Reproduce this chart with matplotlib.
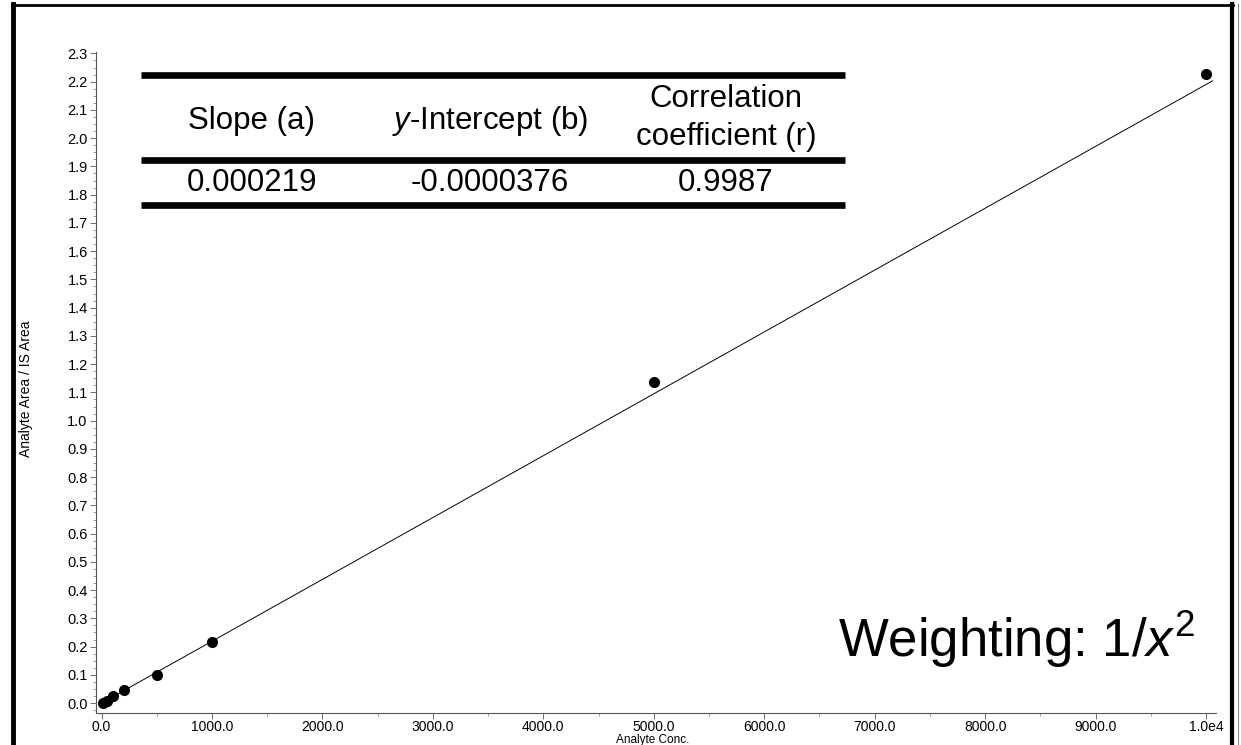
import numpy as np
import matplotlib
matplotlib.use("Agg")
import matplotlib.pyplot as plt
from matplotlib.lines import Line2D
from matplotlib.ticker import MultipleLocator, FormatStrFormatter, FixedLocator

plt.rcParams['font.family'] = ['Liberation Sans', 'DejaVu Sans']
plt.rcParams['mathtext.fontset'] = 'custom'
plt.rcParams['mathtext.rm'] = 'Liberation Sans'
plt.rcParams['mathtext.it'] = 'Liberation Sans:italic'

# calibration points
conc = [10, 50, 100, 200, 500, 1000, 5000, 10000]
ratio = [0.002, 0.008, 0.026, 0.045, 0.101, 0.216, 1.136, 2.227]

# fit results (table)
slope = 0.000219
intercept = -0.0000376
headers = ["Slope (a)", "$y$-Intercept (b)", "Correlation\ncoefficient (r)"]
values = ["0.000219", "-0.0000376", "0.9987"]

x_ticks = [0, 1000, 2000, 3000, 4000, 5000, 6000, 7000, 8000, 9000, 10000]
x_labels = ["0.0", "1000.0", "2000.0", "3000.0", "4000.0", "5000.0",
            "6000.0", "7000.0", "8000.0", "9000.0", "1.0e4"]

fig = plt.figure(figsize=(12.41, 7.45), dpi=100)
ax = fig.add_axes([96 / 1241, 1 - 713 / 745, (1216 - 96) / 1241, (713 - 52) / 745])

xfit = np.array([0, 10060])
ax.plot(xfit, slope * xfit + intercept, color='black', lw=0.7)
ax.plot(conc, ratio, 'o', color='black', ms=7)

ax.set_xlim(-50, 10090)
ax.set_ylim(-0.035, 2.305)
ax.xaxis.set_major_locator(FixedLocator(x_ticks))
ax.set_xticklabels(x_labels)
ax.xaxis.set_minor_locator(MultipleLocator(500))
ax.yaxis.set_major_locator(MultipleLocator(0.1))
ax.yaxis.set_major_formatter(FormatStrFormatter('%.1f'))
ax.yaxis.set_minor_locator(MultipleLocator(0.025))
ax.tick_params(which='major', length=4, width=0.6, color='#555555', labelsize=10.5, pad=2)
ax.tick_params(axis='x', which='major', labelsize=10, pad=1)
ax.tick_params(which='minor', length=2, width=0.5, color='#777777')
for s in ['top', 'right']:
    ax.spines[s].set_visible(False)
for s in ['left', 'bottom']:
    ax.spines[s].set_color('#555555')
    ax.spines[s].set_linewidth(0.8)

ax.set_xlabel("Analyte Conc.", fontsize=8.5)
ax.set_ylabel("Analyte Area / IS Area", fontsize=10)
ax.xaxis.set_label_coords(0.497, -0.0325)
ax.yaxis.set_label_coords(-0.056, 0.49)

# table in the upper left
W, H = 1241, 745
def fx(px):
    return px / W
def fy(py):
    return 1 - py / H

for yy in [75, 160, 205]:
    fig.add_artist(Line2D([fx(141), fx(845)], [fy(yy), fy(yy)], color='black', lw=4.8,
                          solid_capstyle='butt'))
col_x = [252, 490, 726]
fig.text(fx(col_x[0]), fy(121), headers[0], ha='center', va='center', fontsize=22.5)
fig.text(fx(col_x[1]), fy(121), headers[1], ha='center', va='center', fontsize=22.5)
fig.text(fx(col_x[2]), fy(118), headers[2], ha='center', va='center', fontsize=22.5,
         linespacing=1.38)
for cx, v in zip(col_x, values):
    fig.text(fx(cx), fy(183), v, ha='center', va='center', fontsize=22.5)

fig.text(fx(838), fy(657), "Weighting: 1/$x^2$", ha='left', va='baseline', fontsize=38)

# scanned page frame
fig.add_artist(Line2D([fx(13), fx(13)], [fy(4), 0], color='black', lw=3.5))
fig.add_artist(Line2D([fx(12), fx(1233)], [fy(5), fy(5)], color='black', lw=2))
fig.add_artist(Line2D([fx(1232), fx(1232)], [fy(4), 0], color='black', lw=3))
fig.add_artist(Line2D([fx(1238), fx(1238)], [fy(4), 0], color='#888888', lw=0.8))

fig.savefig("out.png", dpi=100)
